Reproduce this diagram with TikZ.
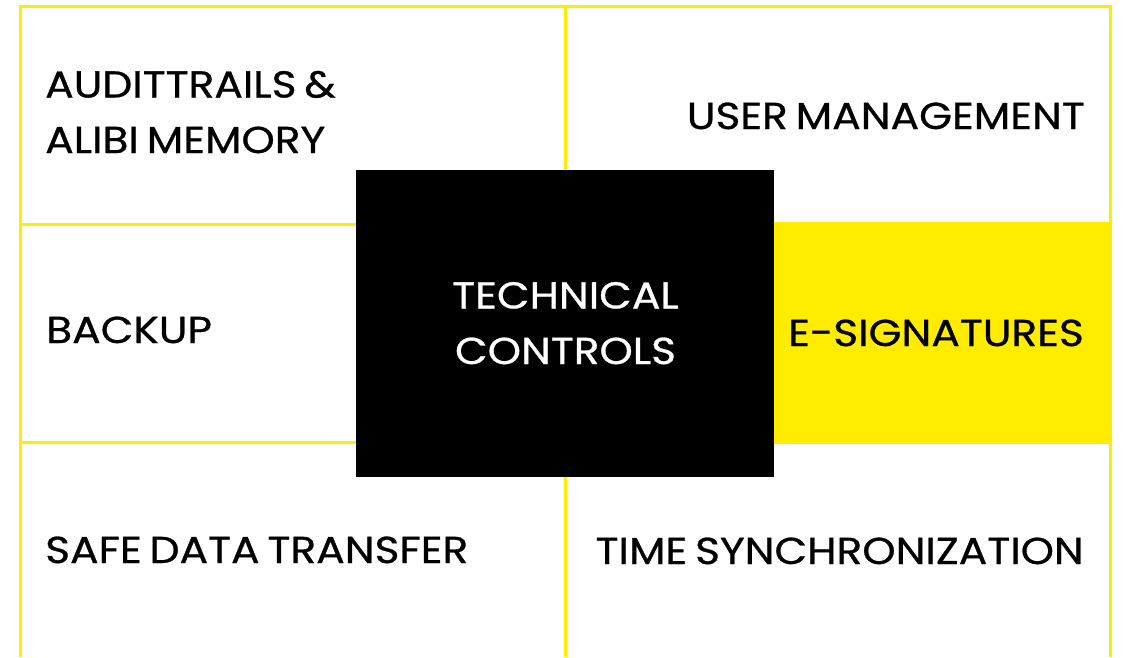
\documentclass[tikz,border=0pt]{standalone}
\usepackage{fontspec}
\setmainfont{Poppins}[FakeStretch=1.13,FakeBold=0.7,WordSpace=0.7]
\definecolor{brandyellow}{HTML}{FFEC00}
\begin{document}
\begin{tikzpicture}[x=1pt,y=-1pt,
  grid/.style={draw=brandyellow,line width=3pt},
  lbl/.style={inner sep=0pt,font=\fontsize{37.5}{55.5}\selectfont,text=black},
  lblw/.style={lbl,text=white,align=center}]
\useasboundingbox (0,0) rectangle (1123,657);
% grid lines
\draw[grid] (20,657) -- (20,6) -- (1110,6) -- (1110,657);
\draw[grid] (565,6) -- (565,657);
\draw[grid] (20,224) -- (1110,224);
\draw[grid] (20,442) -- (1110,442);
% highlighted cell
\fill[brandyellow] (774,222) rectangle (1111.5,443.5);
% center box
\node[fill=black,minimum width=418pt,minimum height=307pt,inner sep=0pt,anchor=north west] (center) at (356,170) {};
\node[lblw,anchor=base] (tc) at (565.5,364) {TECHNICAL\\CONTROLS};
% labels
\node[lbl,align=left,anchor=base west] (audit) at (45,153) {AUDITTRAILS \&\\ALIBI MEMORY};
\node[lbl,anchor=base east] (user) at (1085,129) {USER MANAGEMENT};
\node[lbl,anchor=base west] (backup) at (46,343) {BACKUP};
\node[lbl,anchor=base east] (esig) at (1084,346) {E-SIGNATURES};
\node[lbl,anchor=base west] (safe) at (45,563) {SAFE DATA TRANSFER};
\node[lbl,anchor=base east] (time) at (1084,564) {TIME SYNCHRONIZATION};
\end{tikzpicture}
\end{document}
